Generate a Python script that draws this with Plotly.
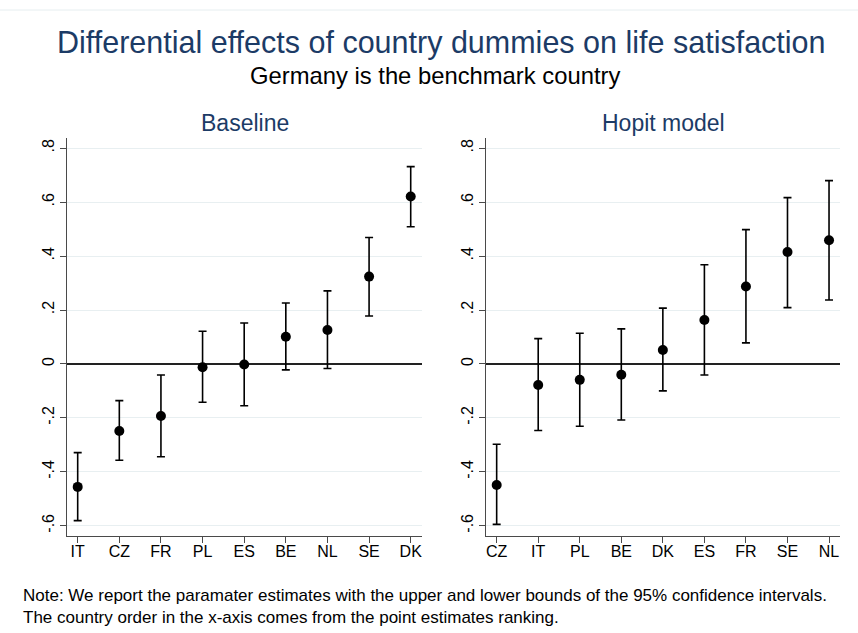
import plotly.graph_objects as go

# ---- data ----
base_countries = ["IT", "CZ", "FR", "PL", "ES", "BE", "NL", "SE", "DK"]
base_est = [-0.456, -0.249, -0.193, -0.012, -0.002, 0.101, 0.126, 0.324, 0.621]
base_upper = [-0.329, -0.136, -0.041, 0.121, 0.152, 0.226, 0.271, 0.469, 0.732]
base_lower = [-0.581, -0.357, -0.344, -0.142, -0.155, -0.022, -0.017, 0.178, 0.509]

hopit_countries = ["CZ", "IT", "PL", "BE", "DK", "ES", "FR", "SE", "NL"]
hopit_est = [-0.449, -0.078, -0.059, -0.040, 0.052, 0.163, 0.287, 0.415, 0.459]
hopit_upper = [-0.298, 0.094, 0.114, 0.130, 0.207, 0.368, 0.498, 0.617, 0.680]
hopit_lower = [-0.595, -0.247, -0.231, -0.208, -0.100, -0.041, 0.078, 0.209, 0.237]

y_tickvals = [-0.6, -0.4, -0.2, 0, 0.2, 0.4, 0.6, 0.8]
y_ticktext = ["-.6", "-.4", "-.2", "0", ".2", ".4", ".6", ".8"]

title = "Differential effects of country dummies on life satisfaction"
subtitle = "Germany is the benchmark country"
panel_titles = ["Baseline", "Hopit model"]
note_lines = [
    "Note: We report the paramater estimates with the upper and lower bounds of the 95% confidence intervals.",
    "The country order in the x-axis comes from the point estimates ranking.",
]

W, H = 858, 633
FONT = "Liberation Sans, Arial, sans-serif"
NAVY = "#1c3b66"
AXIS = "#4a4a4a"
GRID = "#e8eff1"


def px(x):
    return x / W


def py(y):
    return 1 - y / H


fig = go.Figure()


def add_panel(cats, est, up, lo, xa, ya):
    plus = [u - e for u, e in zip(up, est)]
    minus = [e - l for e, l in zip(est, lo)]
    fig.add_trace(go.Scatter(
        x=cats, y=est, mode="markers",
        marker=dict(color="black", size=10, symbol="circle"),
        error_y=dict(type="data", symmetric=False, array=plus, arrayminus=minus,
                     color="black", thickness=1.6, width=4),
        xaxis=xa, yaxis=ya, showlegend=False,
    ))


add_panel(base_countries, base_est, base_upper, base_lower, "x", "y")
add_panel(hopit_countries, hopit_est, hopit_upper, hopit_lower, "x2", "y2")

ydom = [py(535.7), py(138)]
yrange = [-0.637, 0.838]

xcommon = dict(type="category", range=[-0.264, 8.264], showgrid=False,
               showline=True, linecolor=AXIS, linewidth=1.3,
               ticks="outside", ticklen=6, tickwidth=1.2, tickcolor=AXIS,
               ticklabelstandoff=-5,
               tickfont=dict(family=FONT, size=16, color="black"),
               zeroline=False, fixedrange=True)
ycommon = dict(range=yrange, domain=ydom, tickvals=y_tickvals, ticktext=y_ticktext,
               tickangle=-90, showgrid=True, gridcolor=GRID, gridwidth=1,
               showline=True, linecolor=AXIS, linewidth=1.3,
               ticks="outside", ticklen=6, tickwidth=1.2, tickcolor=AXIS,
               ticklabelstandoff=-1,
               tickfont=dict(family=FONT, size=16, color="black"),
               zeroline=True, zerolinecolor="#222222", zerolinewidth=1.6,
               fixedrange=True)

fig.update_layout(
    width=W, height=H,
    margin=dict(l=0, r=0, t=0, b=0),
    paper_bgcolor="white", plot_bgcolor="white",
    xaxis=dict(domain=[px(66.7), px(421.7)], anchor="y", **xcommon),
    yaxis=dict(anchor="x", **ycommon),
    xaxis2=dict(domain=[px(485.7), px(840)], anchor="y2", **xcommon),
    yaxis2=dict(anchor="x2", **ycommon),
    showlegend=False,
)

ann = [
    dict(text=title, x=px(441), y=py(43), font=dict(family=FONT, size=30.5, color=NAVY)),
    dict(text=subtitle, x=px(434.5), y=py(75), font=dict(family=FONT, size=23.8, color="black")),
    dict(text=panel_titles[0], x=px(245), y=py(123), font=dict(family=FONT, size=23, color=NAVY)),
    dict(text=panel_titles[1], x=px(663), y=py(123), font=dict(family=FONT, size=23, color=NAVY)),
]
for a in ann:
    a.update(xref="paper", yref="paper", xanchor="center", yanchor="middle", showarrow=False)
    fig.add_annotation(**a)

fig.add_annotation(text="<br>".join(note_lines), x=px(21), y=py(606.5), xref="paper", yref="paper",
                   xanchor="left", yanchor="middle", align="left", showarrow=False,
                   font=dict(family=FONT, size=17, color="black"))

fig.add_shape(type="line", xref="paper", yref="paper", x0=0, x1=1, y0=py(10), y1=py(10),
              line=dict(color="#e6eef0", width=1))

fig.write_html("out.html")
